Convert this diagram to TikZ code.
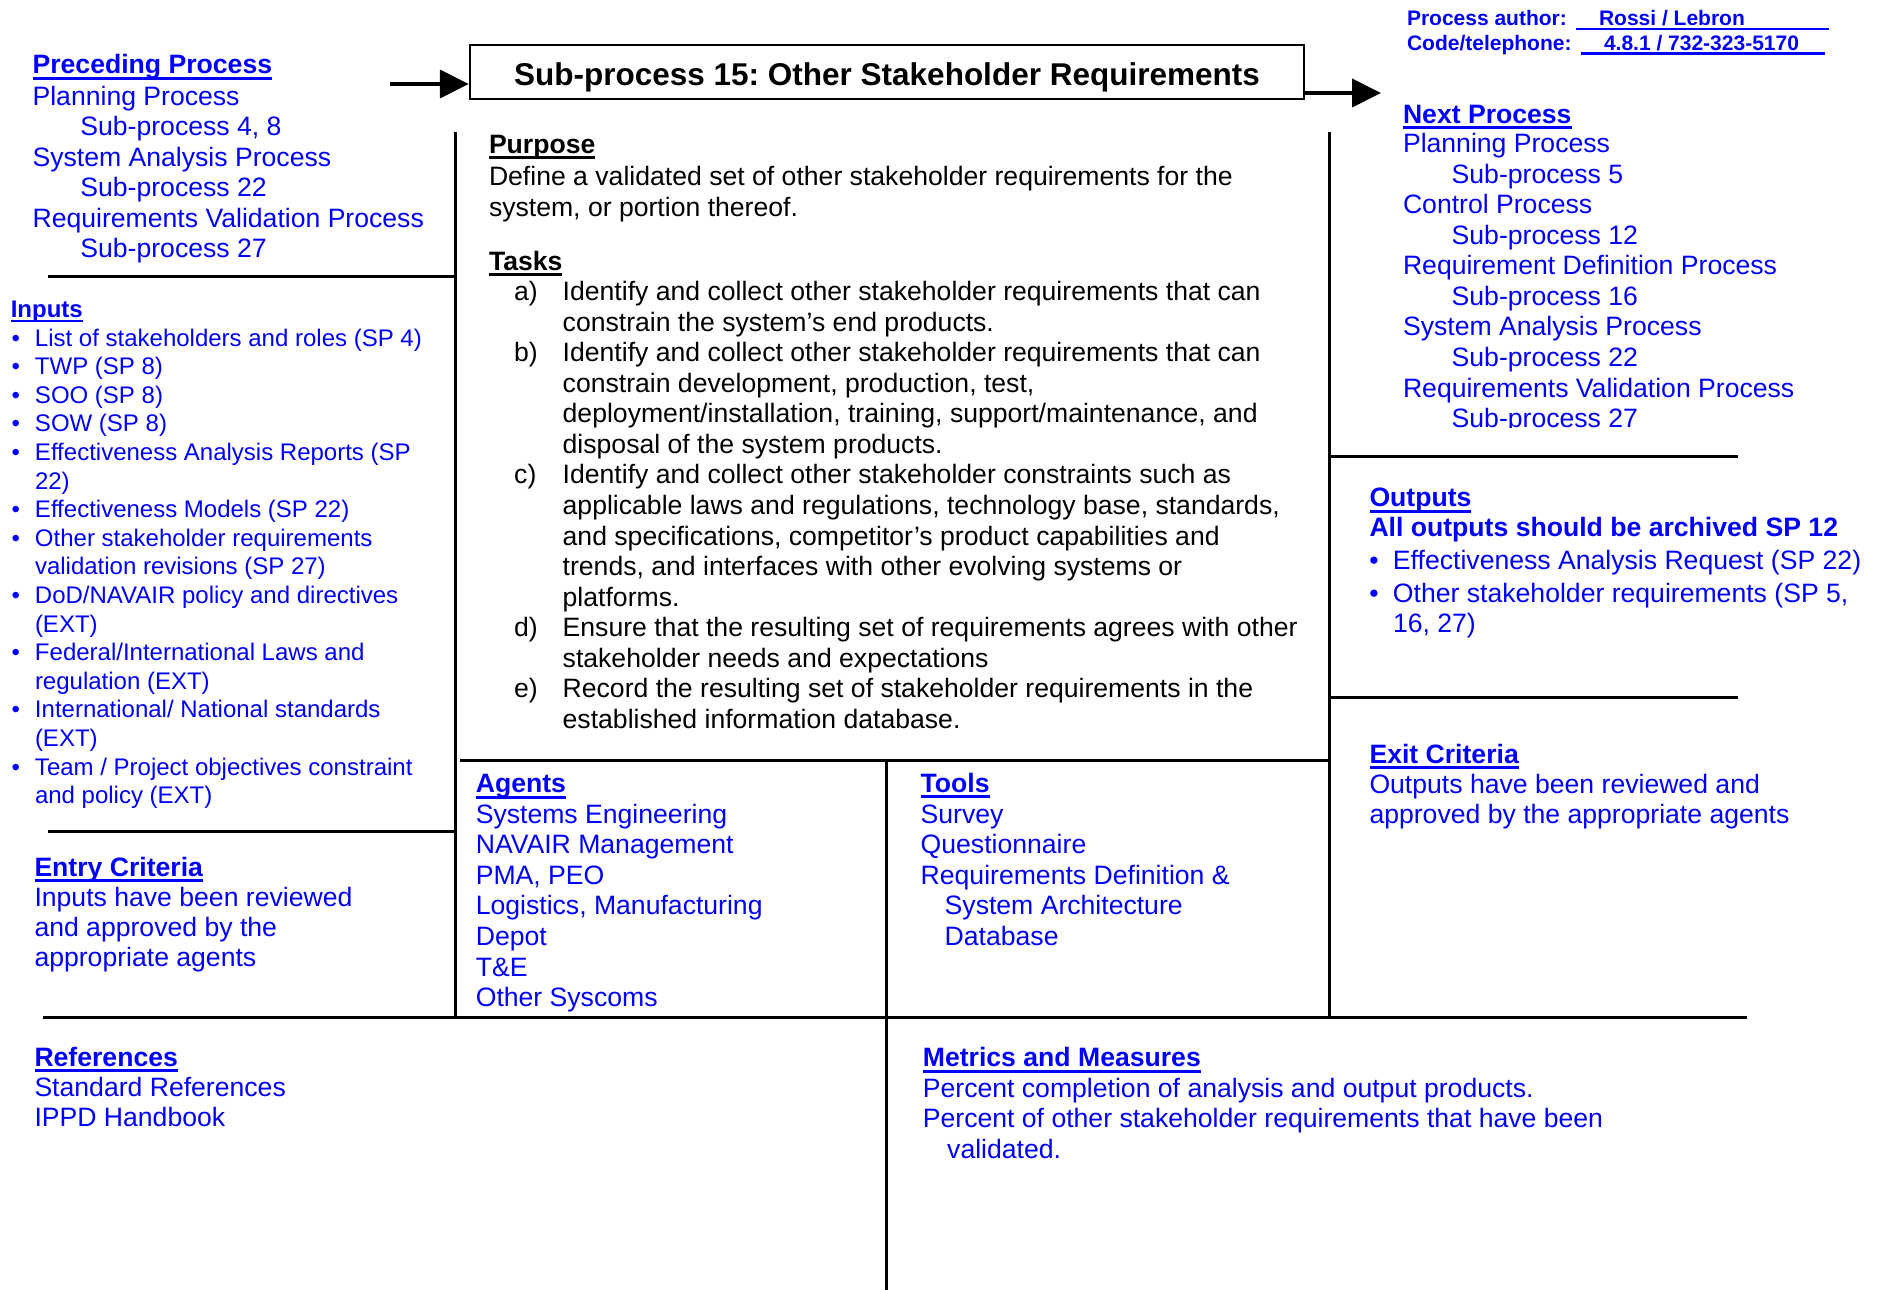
\documentclass[tikz,border=0pt]{standalone}
\usepackage{fontspec}
\setmainfont{Liberation Sans}
\usetikzlibrary{arrows.meta}
\definecolor{tblue}{RGB}{0,0,255}
\frenchspacing
\newcommand\lineblock[2]{\vtop{\baselineskip=#1pt\lineskiplimit=-\maxdimen\lineskip=0pt\halign{##\hfil\cr#2\crcr}}}
\newcommand\ulhead[1]{\setbox0\hbox{#1}\rlap{\rule[-0.22em]{\wd0}{0.1em}}\box0}
\newcommand\bulitem[1]{\llap{\textbullet\hskip#1pt}}
\newcommand\tasklab[1]{\llap{\hbox to 48.5pt{#1\hfil}}}
\begin{document}
\begin{tikzpicture}[x=1pt,y=-1pt,
  txt/.style={anchor=base west, inner sep=0pt, outer sep=0pt, text=tblue, font=\fontsize{26.6}{30.6}\selectfont},
  hdr/.style={txt, font=\fontsize{26.6}{30.6}\selectfont\bfseries},
  smalltxt/.style={txt, font=\fontsize{24}{28.6}\selectfont},
  smallhdr/.style={txt, font=\fontsize{24}{28.6}\selectfont\bfseries},
  authortxt/.style={txt, font=\fontsize{21}{25}\selectfont\bfseries},
  blacktxt/.style={txt, text=black},
  blackhdr/.style={hdr, text=black},
  titlebox/.style={draw, line width=2.5pt, anchor=base, inner sep=0pt, text height=40pt, text depth=14pt, minimum width=834pt, font=\fontsize{31.5}{36}\selectfont\bfseries},
  bigarrow/.style={line width=4pt, -{Triangle[length=29pt,width=28pt]}},
  rulel/.style={line width=3pt},
  authline/.style={line width=2pt, draw=tblue}
]
\fill[white] (0,0) rectangle (1883,1290);
\useasboundingbox (0,0) rectangle (1883,1290);

% title and arrows
\node[titlebox] (title) at (887,85) {Sub-process 15: Other Stakeholder Requirements};
\coordinate (pin) at (390,84);
\draw[bigarrow] (pin) -- (pin -| title.west);
\coordinate (pout) at (1381,93);
\draw[bigarrow] (pout -| title.east) -- (pout);

% rules
\draw[rulel] (48,276) -- (455,276);
\draw[rulel] (48,831) -- (455,831);
\draw[rulel] (455,132) -- (455,1017);
\draw[rulel] (1329,132) -- (1329,1017);
\draw[rulel] (460,760) -- (1329,760);
\draw[rulel] (886,760) -- (886,1290);
\draw[rulel] (43,1017) -- (1747,1017);
\draw[rulel] (1331,456) -- (1738,456);
\draw[rulel] (1331,697) -- (1738,697);

% author block
\node[authortxt] (auth) at (1407,26) {Process author:};
\node[authortxt] (authn) at (1599,26) {Rossi / Lebron};
\node[authortxt] (code) at (1407,51) {Code/telephone:};
\node[authortxt] (coden) at (1604,51) {4.8.1 / 732-323-5170};
\draw[authline] (1576,28.6) -- (1829,28.6);
\draw[authline, line width=2.4pt] (1581,53.6) -- (1825,53.6);

% preceding process
\node[hdr] (prech) at (32.6,74) {\ulhead{Preceding Process}};
\node[txt] (precl) at (32.6,105) {\lineblock{30.55}{Planning Process\cr
\hskip47.8pt Sub-process 4, 8\cr
System Analysis Process\cr
\hskip47.8pt Sub-process 22\cr
Requirements Validation Process\cr
\hskip47.8pt Sub-process 27}};

% inputs
\node[smallhdr] (inh) at (10.8,317) {\ulhead{Inputs}};
\node[smalltxt] (inl) at (35,346) {\lineblock{28.6}{\bulitem{15}List of stakeholders and roles (SP 4)\cr
\bulitem{15}TWP (SP 8)\cr
\bulitem{15}SOO (SP 8)\cr
\bulitem{15}SOW (SP 8)\cr
\bulitem{15}Effectiveness Analysis Reports (SP\cr
22)\cr
\bulitem{15}Effectiveness Models (SP 22)\cr
\bulitem{15}Other stakeholder requirements\cr
validation revisions (SP 27)\cr
\bulitem{15}DoD/NAVAIR policy and directives\cr
(EXT)\cr
\bulitem{15}Federal/International Laws and\cr
regulation (EXT)\cr
\bulitem{15}International/ National standards\cr
(EXT)\cr
\bulitem{15}Team / Project objectives constraint\cr
and policy (EXT)}};

% entry criteria
\node[hdr] (enth) at (34.5,876) {\ulhead{Entry Criteria}};
\node[txt] (entl) at (34.5,906.7) {\lineblock{30}{Inputs have been reviewed\cr
and approved by the\cr
appropriate agents}};

% references
\node[hdr] (refh) at (34.5,1066) {\ulhead{References}};
\node[txt] (refl) at (34.5,1096.7) {\lineblock{30}{Standard References\cr
IPPD Handbook}};

% purpose and tasks
\node[blackhdr] (purh) at (489,153.3) {\ulhead{Purpose}};
\node[blacktxt] (purl) at (489,185) {\lineblock{31}{Define a validated set of other stakeholder requirements for the\cr
system, or portion thereof.}};
\node[blackhdr] (taskh) at (489,270) {\ulhead{Tasks}};
\node[blacktxt] (taskl) at (562.7,300.7) {\lineblock{30.54}{\tasklab{a)}Identify and collect other stakeholder requirements that can\cr
constrain the system’s end products.\cr
\tasklab{b)}Identify and collect other stakeholder requirements that can\cr
constrain development, production, test,\cr
deployment/installation, training, support/maintenance, and\cr
disposal of the system products.\cr
\tasklab{c)}Identify and collect other stakeholder constraints such as\cr
applicable laws and regulations, technology base, standards,\cr
and specifications, competitor’s product capabilities and\cr
trends, and interfaces with other evolving systems or\cr
platforms.\cr
\tasklab{d)}Ensure that the resulting set of requirements agrees with other\cr
stakeholder needs and expectations\cr
\tasklab{e)}Record the resulting set of stakeholder requirements in the\cr
established information database.}};

% agents
\node[hdr] (agh) at (475.8,792.7) {\ulhead{Agents}};
\node[txt] (agl) at (475.8,823.3) {\lineblock{30.55}{Systems Engineering\cr
NAVAIR Management\cr
PMA, PEO\cr
Logistics, Manufacturing\cr
Depot\cr
T\&E\cr
Other Syscoms}};

% tools
\node[hdr] (toolh) at (920.7,792.2) {\ulhead{Tools}};
\node[txt] (tooll) at (920.7,823.3) {\lineblock{30.55}{Survey\cr
Questionnaire\cr
Requirements Definition \&\cr
\hskip24pt System Architecture\cr
\hskip24pt Database}};

% metrics
\node[hdr] (meth) at (922.9,1066.7) {\ulhead{Metrics and Measures}};
\node[txt] (metl) at (922.9,1097.3) {\lineblock{30.5}{Percent completion of analysis and output products.\cr
Percent of other stakeholder requirements that have been\cr
\hskip24.3pt validated.}};

% next process
\node[hdr] (nexth) at (1403,123.3) {\ulhead{Next Process}};
\begin{scope}
\clip (1300,130) rectangle (1883,427.5);
\node[txt] (nextl) at (1403,152.7) {\lineblock{30.55}{Planning Process\cr
\hskip48.7pt Sub-process 5\cr
Control Process\cr
\hskip48.7pt Sub-process 12\cr
Requirement Definition Process\cr
\hskip48.7pt Sub-process 16\cr
System Analysis Process\cr
\hskip48.7pt Sub-process 22\cr
Requirements Validation Process\cr
\hskip48.7pt Sub-process 27}};
\end{scope}

% outputs
\node[hdr] (outh) at (1369.5,506.7) {\ulhead{Outputs}};
\node[hdr] (outa) at (1369.5,536.7) {All outputs should be archived SP 12};
\node[txt] (outl) at (1393,569.3) {\lineblock{30.3}{\bulitem{14.3}Effectiveness Analysis Request (SP 22)\cr
\noalign{\vskip3pt}\bulitem{14.3}Other stakeholder requirements (SP 5,\cr
16, 27)}};

% exit criteria
\node[hdr] (exith) at (1369.5,763.3) {\ulhead{Exit Criteria}};
\node[txt] (exitl) at (1369.5,793.3) {\lineblock{30.6}{Outputs have been reviewed and\cr
approved by the appropriate agents}};
\end{tikzpicture}
\end{document}
